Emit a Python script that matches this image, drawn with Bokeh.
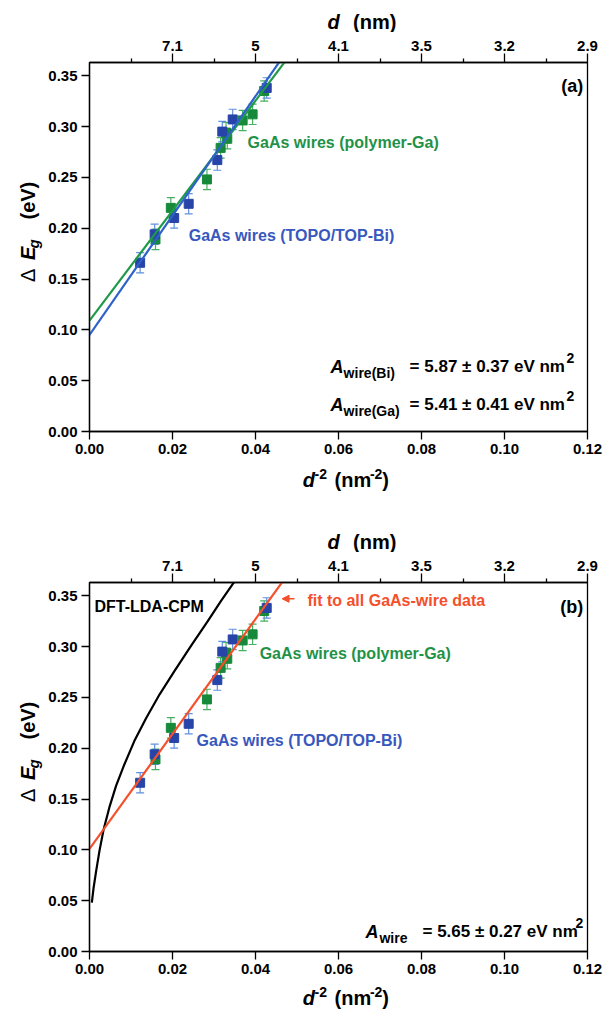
import math
from bokeh.plotting import figure
from bokeh.models import (ColumnDataSource, Whisker, TeeHead, Label, LinearAxis,
                          FixedTicker, Range1d, Arrow, NormalHead)
from bokeh.layouts import column, row
from bokeh.embed import file_html
from bokeh.resources import INLINE

# ---------------- data ----------------
# GaAs quantum wires grown with TOPO/TOP-Bi
bi_inv_d2 = [0.0122, 0.0157, 0.0204, 0.0239, 0.0308, 0.0320, 0.0345, 0.0427]
bi_dEg = [0.166, 0.194, 0.210, 0.224, 0.267, 0.295, 0.307, 0.338]
bi_err = [0.010, 0.010, 0.010, 0.010, 0.010, 0.010, 0.010, 0.010]

# GaAs quantum wires grown with polymer-Ga
ga_inv_d2 = [0.0159, 0.0196, 0.0283, 0.0316, 0.0329, 0.0332, 0.0369, 0.0393, 0.0421]
ga_dEg = [0.189, 0.220, 0.248, 0.279, 0.294, 0.288, 0.306, 0.312, 0.335]
ga_err = [0.010, 0.010, 0.010, 0.010, 0.010, 0.010, 0.010, 0.010, 0.010]

# linear fits dEg = intercept + A * d^-2
fit_bi = {"A": 5.87, "intercept": 0.095}
fit_ga = {"A": 5.41, "intercept": 0.109}
fit_all = {"A": 5.65, "intercept": 0.101}
fit_x = [0.0, 0.06]

# DFT-LDA-CPM calculation
dft_inv_d2 = [0.00056, 0.0010, 0.0016, 0.0024, 0.0034, 0.0048, 0.0064, 0.0084,
              0.0108, 0.0137, 0.0169, 0.0205, 0.0245, 0.0285, 0.0317, 0.0345,
              0.0352]
dft_dEg = [0.048, 0.063, 0.079, 0.099, 0.120, 0.142, 0.163, 0.184,
           0.207, 0.230, 0.253, 0.276, 0.301, 0.325, 0.345, 0.3615,
           0.365]

# axes
x_ticks = [0.00, 0.02, 0.04, 0.06, 0.08, 0.10, 0.12]
x_tick_labels = ["0.00", "0.02", "0.04", "0.06", "0.08", "0.10", "0.12"]
y_ticks = [0.00, 0.05, 0.10, 0.15, 0.20, 0.25, 0.30, 0.35]
y_tick_labels = ["0.00", "0.05", "0.10", "0.15", "0.20", "0.25", "0.30", "0.35"]
top_ticks = [0.02, 0.04, 0.06, 0.08, 0.10, 0.12]
top_minor = [0.01, 0.03, 0.05, 0.07, 0.09, 0.11]
top_tick_labels = ["7.1", "5", "4.1", "3.5", "3.2", "2.9"]

FONT = "Liberation Sans"
BLUE_M = "#2744a8"
BLUE_E = "#5f8fe0"
BLUE_L = "#2f62c8"
BLUE_T = "#3858bd"
GREEN_M = "#168a3a"
GREEN_E = "#45b060"
GREEN_L = "#1e9a48"
GREEN_T = "#1f9247"
RED = "#f4502c"

# page geometry of one panel (pixels)
LEFT_W = 44        # strip holding the rotated y title
TOP_H = 32         # strip holding the upper x title
FRAME_LEFT = 89
FRAME_TOP = 62
FRAME_H = 369
MAIN_BOTTOM = 462  # where the lower x-title strip begins
MAIN_H = MAIN_BOTTOM - TOP_H

MID = 0.35  # distance (in em) from a text's middle line down to its baseline


def put(fig, x, y, txt, size, style="bold", color="black", angle=0.0,
        align="left", x_offset=0, y_offset=0):
    fig.add_layout(Label(x=x, y=y, text=txt, angle=angle, text_font=FONT,
                         text_font_size=f"{size}px", text_font_style=style,
                         text_color=color, text_align=align,
                         text_baseline="middle", x_offset=x_offset,
                         y_offset=y_offset))


def put_on_baseline(fig, x, baseline, txt, size, style="bold"):
    """Horizontal text in a strip (y grows downward) sitting on a baseline."""
    put(fig, x, baseline - MID * size, txt, size, style)


def put_up(fig, baseline_x, y, txt, size, style="bold"):
    """Text reading bottom-to-top with its baseline at baseline_x."""
    put(fig, baseline_x - MID * size, y, txt, size, style, angle=math.pi / 2)


def strip(width, height, x0, y0):
    """Axis-free figure whose coordinates are pixels measured from the
    top-left corner of the panel."""
    f = figure(width=width, height=height, x_range=Range1d(x0, x0 + width),
               y_range=Range1d(y0 + height, y0), x_axis_type=None,
               y_axis_type=None, min_border=0, toolbar_location=None,
               output_backend="svg", outline_line_color=None)
    f.background_fill_color = "white"
    f.border_fill_color = "white"
    return f


def style_axis(ax, tick_out, standoff):
    ax.axis_line_width = 1.3
    ax.axis_line_color = "black"
    ax.major_tick_line_color = "black"
    ax.major_tick_line_width = 1.3
    ax.minor_tick_line_color = "black"
    ax.minor_tick_line_width = 1.3
    ax.major_tick_in = 0
    ax.major_tick_out = tick_out
    ax.minor_tick_in = 0
    ax.minor_tick_out = tick_out // 2
    ax.major_label_text_font = FONT
    ax.major_label_text_font_size = "15px"
    ax.major_label_text_font_style = "bold"
    ax.major_label_text_color = "black"
    ax.major_label_standoff = standoff


def make_main():
    p = figure(width=607 - LEFT_W, height=MAIN_H, x_range=Range1d(0, 0.12),
               y_range=Range1d(0, 0.363), output_backend="svg",
               toolbar_location=None, min_border_left=FRAME_LEFT - LEFT_W,
               min_border_right=20, min_border_top=FRAME_TOP - TOP_H,
               min_border_bottom=MAIN_H - FRAME_H - (FRAME_TOP - TOP_H))
    p.xgrid.visible = False
    p.ygrid.visible = False
    p.outline_line_color = "black"
    p.outline_line_width = 1.3
    p.background_fill_color = "white"
    p.border_fill_color = "white"

    p.xaxis.ticker = FixedTicker(ticks=x_ticks, minor_ticks=[])
    p.xaxis.major_label_overrides = dict(zip(x_ticks, x_tick_labels))
    p.yaxis.ticker = FixedTicker(ticks=y_ticks, minor_ticks=[])
    p.yaxis.major_label_overrides = dict(zip(y_ticks, y_tick_labels))
    style_axis(p.xaxis[0], 8, 4)
    style_axis(p.yaxis[0], 8, 4)

    top = LinearAxis(ticker=FixedTicker(ticks=top_ticks, minor_ticks=top_minor))
    top.major_label_overrides = dict(zip(top_ticks, top_tick_labels))
    style_axis(top, 9, 3)
    p.add_layout(top, "above")
    return p


def make_panel(main, total_h, bottom_baseline):
    # rotated y title:  Delta E_g (eV)
    left = strip(LEFT_W, total_h, 0, 0)
    put_up(left, 34, 281.5, "\u0394", 20, "normal")
    put_up(left, 34, 259.5, "E", 20, "bold italic")
    put_up(left, 38, 248, "g", 15, "bold italic")
    put_up(left, 34, 219, "(eV)", 20, "bold")

    # upper x title:  d (nm)
    top = strip(607 - LEFT_W, TOP_H, LEFT_W, 0)
    put_on_baseline(top, 313, 28.5, "d", 20, "bold italic")
    put_on_baseline(top, 342, 28.5, "(nm)", 20)

    # lower x title:  d^-2 (nm^-2)
    bot = strip(607 - LEFT_W, total_h - MAIN_BOTTOM, LEFT_W, MAIN_BOTTOM)
    b = bottom_baseline
    put_on_baseline(bot, 285, b, "d", 20, "bold italic")
    put_on_baseline(bot, 298.5, b - 8, "-2", 14)
    put_on_baseline(bot, 321, b, "(nm", 20)
    put_on_baseline(bot, 361, b - 8, "-2", 14)
    put_on_baseline(bot, 375, b, ")", 20)

    return row(left, column(top, main, bot, spacing=0), spacing=0)


def draw_points(p):
    for xs, ys, es, mc, ec in ((ga_inv_d2, ga_dEg, ga_err, GREEN_M, GREEN_E),
                               (bi_inv_d2, bi_dEg, bi_err, BLUE_M, BLUE_E)):
        src = ColumnDataSource(dict(x=xs, y=ys,
                                    upper=[v + e for v, e in zip(ys, es)],
                                    lower=[v - e for v, e in zip(ys, es)]))
        p.add_layout(Whisker(base="x", upper="upper", lower="lower", source=src,
                             line_color=ec, line_width=1.2,
                             upper_head=TeeHead(size=8, line_color=ec, line_width=1.2),
                             lower_head=TeeHead(size=8, line_color=ec, line_width=1.2)))
        p.scatter("x", "y", source=src, marker="square", size=9,
                  fill_color=mc, line_color=mc)


def fit_line(p, fit, color):
    ys = [fit["intercept"] + fit["A"] * x for x in fit_x]
    p.line(fit_x, ys, line_color=color, line_width=2.2)


def a_value(p, x, y, sub, sub_dx, eq, eq_dx, sup_dx):
    """A_sub = value eV nm^2 on the baseline y, written with sub/superscripts."""
    put(p, x, y, "A", 18, "bold italic", y_offset=MID * 18)
    put(p, x, y, sub, 14, x_offset=sub_dx, y_offset=MID * 14 - 5)
    put(p, x, y, eq, 17, x_offset=eq_dx, y_offset=MID * 17)
    put(p, x, y, "2", 14, x_offset=sup_dx, y_offset=MID * 14 + 10)


# ---------------- panel (a) ----------------
pa = make_main()
draw_points(pa)
fit_line(pa, fit_ga, GREEN_L)
fit_line(pa, fit_bi, BLUE_L)
put(pa, 0.0381, 0.284, "GaAs wires (polymer-Ga)", 16, color=GREEN_T)
put(pa, 0.0239, 0.1925, "GaAs wires (TOPO/TOP-Bi)", 16, color=BLUE_T)
put(pa, 0.1190, 0.340, "(a)", 18, align="right")
a_value(pa, 0.0581, 0.0577, "wire(Bi)", 13, "= 5.87 \u00b1 0.37 eV nm", 79, 236)
a_value(pa, 0.0581, 0.0203, "wire(Ga)", 13, "= 5.41 \u00b1 0.41 eV nm", 79, 236)

# ---------------- panel (b) ----------------
pb = make_main()
pb.line(dft_inv_d2, dft_dEg, line_color="black", line_width=2.2)
draw_points(pb)
fit_line(pb, fit_all, RED)
put(pb, 0.0012, 0.339, "DFT-LDA-CPM", 16)
put(pb, 0.1190, 0.339, "(b)", 18, align="right")
put(pb, 0.0525, 0.345, "fit to all GaAs-wire data", 16, color=RED)
pb.add_layout(Arrow(end=NormalHead(size=7, fill_color=RED, line_color=RED),
                    x_start=0.0494, y_start=0.347, x_end=0.0464, y_end=0.347,
                    line_color=RED, line_width=1.5))
put(pb, 0.0410, 0.293, "GaAs wires (polymer-Ga)", 16, color=GREEN_T)
put(pb, 0.0258, 0.208, "GaAs wires (TOPO/TOP-Bi)", 16, color=BLUE_T)
a_value(pb, 0.0665, 0.0134, "wire", 14, "= 5.65 \u00b1 0.27 eV nm", 57, 210)

layout = column(make_panel(pa, 520, 486), make_panel(pb, 493, 484), spacing=0)
open("out.html", "w").write(file_html(layout, INLINE))
